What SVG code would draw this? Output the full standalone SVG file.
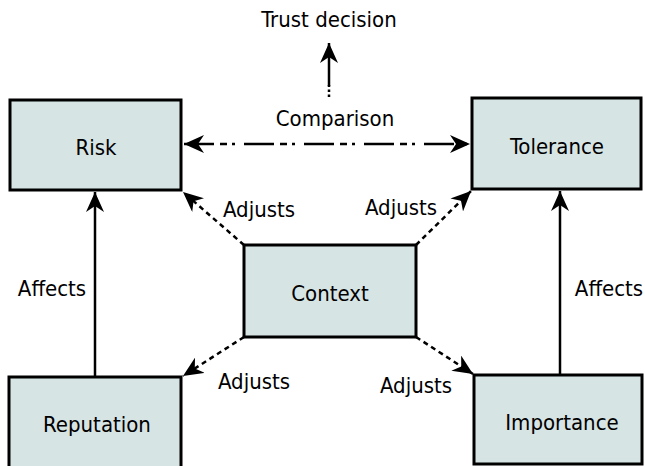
<svg xmlns="http://www.w3.org/2000/svg" width="645" height="466" viewBox="0 0 645 466">
<style>
  .box{fill:#d7e4e4;stroke:#000;stroke-width:3}
  .t{font-family:"DejaVu Sans Condensed","DejaVu Sans",sans-serif;font-size:22px;fill:#000;text-anchor:middle}
  .c{fill:none;stroke:#000;stroke-width:2.5}
  .dash{stroke-dasharray:5 4}
  .dashdot{stroke-dasharray:30 6 7 5 3 9}
</style>
<defs>
  <marker id="ah" markerUnits="userSpaceOnUse" markerWidth="22" markerHeight="18" refX="20" refY="9" orient="auto-start-reverse" viewBox="0 0 22 18">
    <path d="M0,0 L20,9 L0,18 L6,9 Z" fill="#000"/>
  </marker>
</defs>
<g id="connectors">
  <line class="c" x1="95" y1="377" x2="95" y2="192" marker-end="url(#ah)"/>
  <line class="c" x1="560" y1="375" x2="560" y2="191" marker-end="url(#ah)"/>
  <line class="c dashdot" x1="184" y1="144" x2="470" y2="144" marker-start="url(#ah)" marker-end="url(#ah)"/>
  <line class="c" x1="329" y1="86" x2="329" y2="43" marker-end="url(#ah)"/>
  <line class="c" x1="329" y1="97" x2="329" y2="85" stroke-dasharray="2.5 2.5"/>
  <line class="c dash" x1="244" y1="245" x2="183" y2="192" marker-end="url(#ah)"/>
  <line class="c dash" x1="416" y1="245" x2="471" y2="191" marker-end="url(#ah)"/>
  <line class="c dash" x1="244" y1="337" x2="183" y2="376" marker-end="url(#ah)"/>
  <line class="c dash" x1="416" y1="337" x2="473" y2="374" marker-end="url(#ah)"/>
</g>
<g id="risk">
  <rect class="box" x="10" y="100" width="171" height="90"/>
  <text class="t" x="96" y="155">Risk</text>
</g>
<g id="tolerance">
  <rect class="box" x="472" y="98" width="169" height="91"/>
  <text class="t" x="557" y="154">Tolerance</text>
</g>
<g id="context">
  <rect class="box" x="244" y="245" width="172" height="92"/>
  <text class="t" x="330" y="301">Context</text>
</g>
<g id="reputation">
  <rect class="box" x="9" y="377" width="172" height="95"/>
  <text class="t" x="97" y="432">Reputation</text>
</g>
<g id="importance">
  <rect class="box" x="474" y="375" width="168" height="89"/>
  <text class="t" x="562" y="430">Importance</text>
</g>
<g id="trust-decision">
  <text class="t" x="329" y="27">Trust decision</text>
</g>
<g id="labels">
  <text class="t" x="335" y="126">Comparison</text>
  <text class="t" x="259" y="217">Adjusts</text>
  <text class="t" x="401" y="215">Adjusts</text>
  <text class="t" x="254" y="389">Adjusts</text>
  <text class="t" x="416" y="393">Adjusts</text>
  <text class="t" x="52" y="296">Affects</text>
  <text class="t" x="609" y="296">Affects</text>
</g>
</svg>
